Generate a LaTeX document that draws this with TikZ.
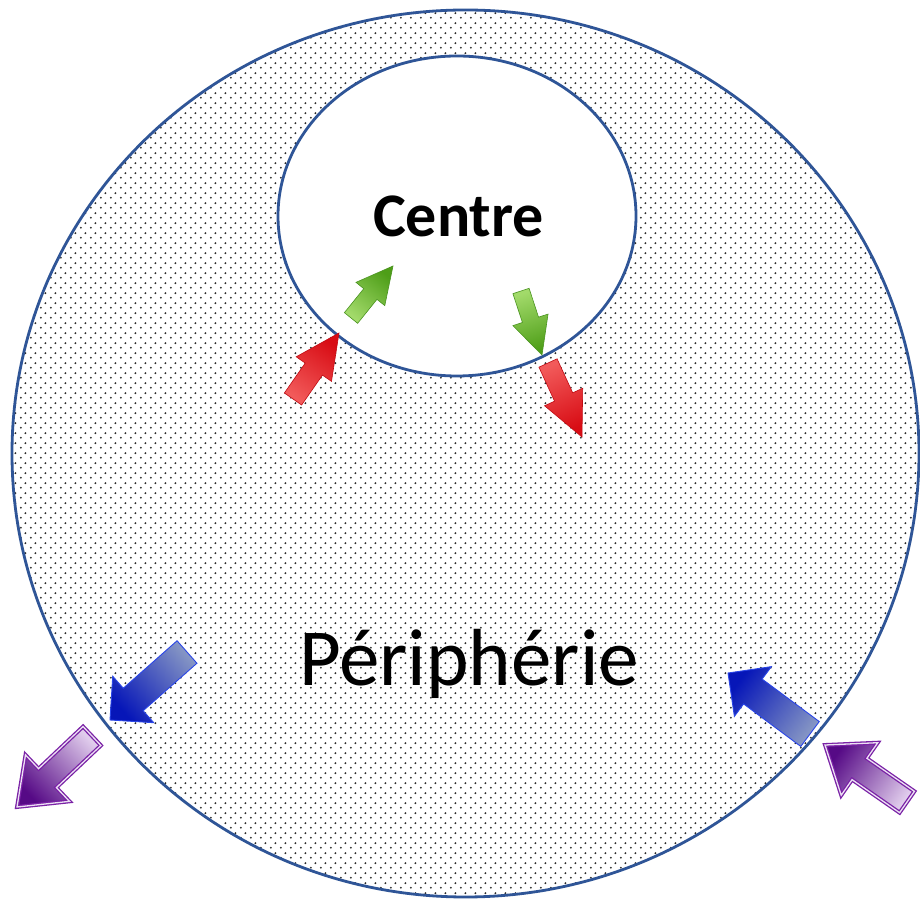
\documentclass[tikz,border=0pt]{standalone}
\usepackage{fontspec}
\setmainfont{Carlito}
\usetikzlibrary{calc,patterns.meta}

\definecolor{ringblue}{HTML}{2F5597}
\definecolor{dotgray}{HTML}{2A2A2A}
\definecolor{ghead}{HTML}{4E9E18}
\definecolor{gmid}{HTML}{6CBF2A}
\definecolor{gtail}{HTML}{A2DA6A}
\definecolor{gline}{HTML}{4A9420}
\definecolor{rhead}{HTML}{D80C14}
\definecolor{rmid}{HTML}{EC1C24}
\definecolor{rtail}{HTML}{F25A5A}
\definecolor{rline}{HTML}{C00A12}
\definecolor{bhead}{HTML}{0616B8}
\definecolor{bmid}{HTML}{0C22B4}
\definecolor{btail}{HTML}{8494C4}
\definecolor{bline}{HTML}{2A46E8}
\definecolor{phead}{HTML}{560A86}
\definecolor{pmid}{HTML}{8E4CB6}
\definecolor{ptail}{HTML}{E0CCEC}
\definecolor{pline}{HTML}{7A22A6}

\tikzdeclarepattern{name=stipple, type=uncolored,
  bounding box={(0pt,0pt) and (9.5pt,10pt)}, tile size={(9.5pt,10pt)},
  code={\fill (2pt,2.5pt) circle (1.1pt); \fill (6.75pt,7.5pt) circle (1.1pt);}}

\tikzset{
  ring/.style={draw=ringblue, line width=2.8pt},
  greenarrow/.style={top color=ghead, middle color=gmid, bottom color=gtail, draw=gline, line width=0.6pt},
  redarrow/.style={top color=rhead, middle color=rmid, bottom color=rtail, draw=rline, line width=0.6pt},
  bluearrow/.style={top color=bhead, middle color=bmid, bottom color=btail, draw=bline, line width=0.9pt},
  purplearrow/.style={top color=phead, middle color=pmid, bottom color=ptail, draw=pline, double=ptail!60!white, double distance=1.3pt, line width=1.3pt},
  lbl/.style={inner sep=0pt, text=black}
}

% #1 name, #2 tail, #3 tip, #4 shaft width, #5 head width, #6 head length, #7 style
\newcommand\barrow[7]{%
  \coordinate (#1-n) at ($(#3)!{#6}!(#2)$);
  \pgfpointanchor{#2}{center}\pgfgetlastxy\barAx\barAy
  \pgfpointanchor{#3}{center}\pgfgetlastxy\barBx\barBy
  \pgfmathsetmacro\barang{atan2(\barBy-\barAy,\barBx-\barAx)-90}
  \path[#7, shading angle=\barang]
    ($(#2)!{#4/2}!90:(#3)$) -- ($(#1-n)!{#4/2}!90:(#3)$) -- ($(#1-n)!{#5/2}!90:(#3)$)
    -- (#3)
    -- ($(#1-n)!{#5/2}!-90:(#3)$) -- ($(#1-n)!{#4/2}!-90:(#3)$) -- ($(#2)!{#4/2}!-90:(#3)$) -- cycle;}

\begin{document}
\begin{tikzpicture}[x=1pt, y=1pt]
  \fill[white] (0,0) rectangle (920,899);
  \useasboundingbox (0,0) rectangle (920,899);

  % outer periphery
  \coordinate (oc) at (465.5,445.5);
  \fill[white] (oc) ellipse [x radius=453.5, y radius=443.5];
  \fill[pattern=stipple, pattern color=dotgray] (oc) ellipse [x radius=453.5, y radius=443.5];
  \draw[ring] (oc) ellipse [x radius=453.5, y radius=443.5];

  % inner centre
  \coordinate (ic) at (457,683);
  \fill[white] (ic) ellipse [x radius=179, y radius=160];
  \draw[ring] (ic) ellipse [x radius=179, y radius=160];

  \node[lbl, anchor=base, font=\fontsize{62}{70}\selectfont\bfseries] (centre) at (458.5,662) {Centre};
  \node[lbl, anchor=base, font=\fontsize{81}{90}\selectfont] (peri) at (469,213) {Périphérie};

  % arrow end points
  \coordinate (g1t) at (351,581); \coordinate (g1h) at (393,633);
  \coordinate (r1t) at (293,500); \coordinate (r1h) at (339,566);
  \coordinate (g2t) at (521,608); \coordinate (g2h) at (542,544);
  \coordinate (r2t) at (548,536); \coordinate (r2h) at (582,462);
  \coordinate (blt) at (187,247); \coordinate (blh) at (110,179);
  \coordinate (plt) at (92,163);  \coordinate (plh) at (17,92);
  \coordinate (brt) at (810,165); \coordinate (brh) at (728,226);
  \coordinate (prt) at (907,97);  \coordinate (prh) at (825,154);

  \barrow{g1}{g1t}{g1h}{17pt}{37pt}{36pt}{greenarrow}
  \barrow{r1}{r1t}{r1h}{21pt}{43pt}{44pt}{redarrow}
  \barrow{g2}{g2t}{g2h}{17pt}{37pt}{37pt}{greenarrow}
  \barrow{r2}{r2t}{r2h}{20pt}{42pt}{44pt}{redarrow}
  \barrow{bl}{blt}{blh}{30pt}{62pt}{31pt}{bluearrow}
  \barrow{pl}{plt}{plh}{26pt}{64pt}{42pt}{purplearrow}
  \barrow{br}{brt}{brh}{31pt}{62pt}{31pt}{bluearrow}
  \barrow{pr}{prt}{prh}{26pt}{64pt}{42pt}{purplearrow}
\end{tikzpicture}
\end{document}
